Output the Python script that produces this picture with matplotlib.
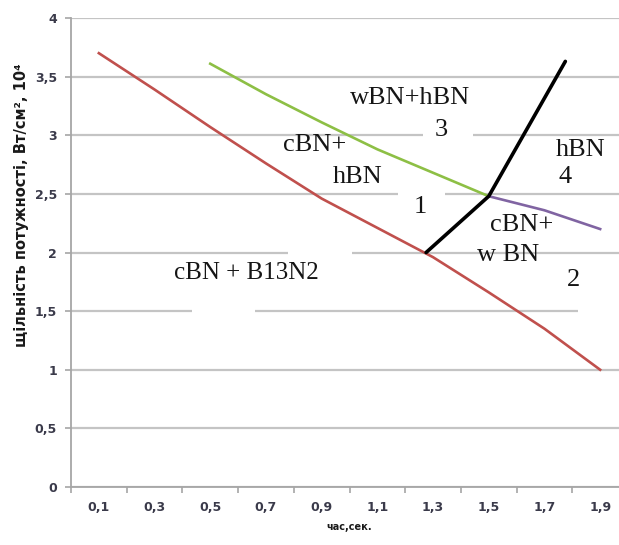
import numpy as np
import matplotlib
matplotlib.use('Agg')
import matplotlib.pyplot as plt
from matplotlib.patches import Rectangle

# дані (час, сек. / щільність потужності)
red_x = [0.1, 0.3, 0.5, 0.7, 0.9, 1.1, 1.3, 1.5, 1.7, 1.9]
red_y = [3.7, 3.39, 3.07, 2.76, 2.46, 2.21, 1.96, 1.66, 1.35, 1.0]

green_x = [0.5, 0.7, 0.9, 1.1, 1.3, 1.5]
green_y = [3.61, 3.35, 3.11, 2.88, 2.68, 2.48]

purple_x = [1.5, 1.7, 1.9]
purple_y = [2.48, 2.36, 2.2]

black_x = [1.275, 1.5, 1.775]
black_y = [2.0, 2.48, 3.63]

x_labels = ["0,1", "0,3", "0,5", "0,7", "0,9", "1,1", "1,3", "1,5", "1,7", "1,9"]
y_labels = ["0", "0,5", "1", "1,5", "2", "2,5", "3", "3,5", "4"]

regions = ["wBN+hBN", "3", "cBN+", "hBN", "1", "hBN", "4", "cBN+", "w BN", "2", "cBN + B13N2"]
region_x = [1.217, 1.329, 0.876, 1.031, 1.253, 1.831, 1.774, 1.619, 1.569, 1.803, 0.628]
region_y = [3.32, 3.046, 2.918, 2.645, 2.389, 2.87, 2.64, 2.235, 1.98, 1.766, 1.826]

fig = plt.figure(figsize=(6.19, 5.45), dpi=100)
ax = fig.add_axes([71 / 619, 1 - 487 / 545, 557 / 619, 469 / 545])

ax.set_xlim(0, 2.0)
ax.set_ylim(0, 4)

ax.set_yticks(np.arange(0, 4.01, 0.5))
ax.set_yticklabels(y_labels)
ax.set_xticks(np.arange(0, 2.01, 0.2))
ax.set_xticklabels([])
ax.set_xticks(red_x, minor=True)
ax.set_xticklabels(x_labels, minor=True)

ax.tick_params(axis='x', which='major', length=4, width=1.2, color='#a6a6a6', direction='out')
ax.tick_params(axis='x', which='minor', length=0, pad=10, labelsize=9, labelcolor='#3a3a4a')
ax.tick_params(axis='y', length=4, width=1.2, color='#a6a6a6', pad=6, labelsize=9, labelcolor='#3a3a4a')
for lab in ax.get_xticklabels(minor=True) + ax.get_yticklabels():
    lab.set_fontweight('bold')

for s in ['top', 'right']:
    ax.spines[s].set_visible(False)
for s in ['left', 'bottom']:
    ax.spines[s].set_color('#a6a6a6')
    ax.spines[s].set_linewidth(1.3)

ax.set_axisbelow(True)
ax.yaxis.grid(True, color='#c4c4c4', linewidth=1.6)
ax.xaxis.grid(False)

# білі плашки від текстових блоків, що перекривають сітку
gaps = [(1.264, 2.94, 0.18, 0.12), (1.174, 2.44, 0.17, 0.12), (0.779, 1.94, 0.23, 0.12),
        (0.434, 1.44, 0.227, 0.12), (1.82, 1.44, 0.3, 0.12)]
for gx, gy, gw, gh in gaps:
    ax.add_patch(Rectangle((gx, gy), gw, gh, facecolor='white', edgecolor='none', zorder=1))

ax.plot(red_x, red_y, color='#c0504d', linewidth=1.9, zorder=3)
ax.plot(green_x, green_y, color='#8dbf45', linewidth=1.9, zorder=3)
ax.plot(purple_x, purple_y, color='#8064a2', linewidth=1.9, zorder=3)
ax.plot(black_x, black_y, color='black', linewidth=2.6, zorder=4, solid_capstyle='round')

for t, tx, ty in zip(regions, region_x, region_y):
    fs = 18 if t.startswith("cBN +") else 19
    ax.text(tx, ty, t, ha='center', va='center', fontsize=fs, family='Liberation Serif',
            color='#151515', zorder=5)

ax.set_ylabel("щільність потужності, Вт/см², 10⁴", fontsize=10.5, fontweight='bold', color='#1a1a1a')
ax.yaxis.set_label_coords(-0.075, 0.60)
ax.set_xlabel("час,сек.", fontsize=7, fontweight='bold', color='#1a1a1a')
ax.xaxis.set_label_coords(0.5, -0.075)

plt.savefig('out.png', dpi=100)
